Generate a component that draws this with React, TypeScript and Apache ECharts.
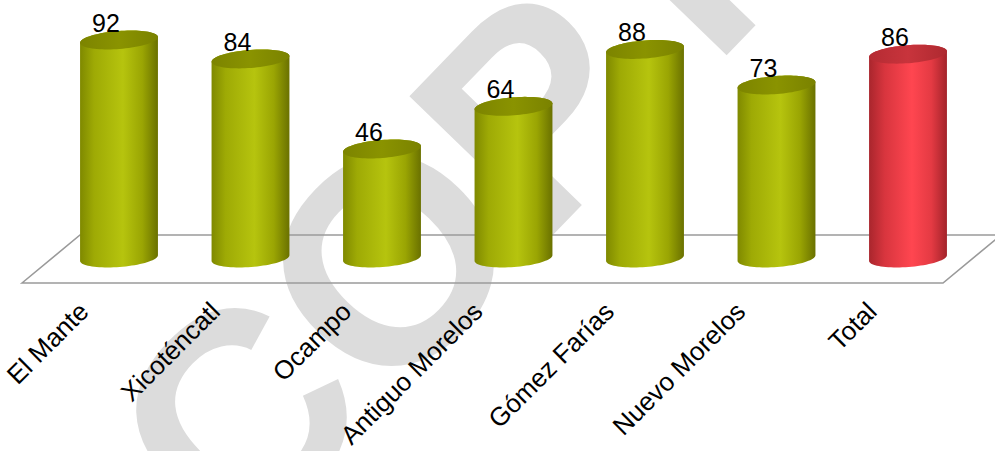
import React, { useEffect, useRef } from "react";
import * as echarts from "echarts";

const categories = [
  "El Mante",
  "Xicoténcatl",
  "Ocampo",
  "Antiguo Morelos",
  "Gómez Farías",
  "Nuevo Morelos",
  "Total",
];
const values = [92, 84, 46, 64, 88, 73, 86];
const isTotal = [false, false, false, false, false, false, true];

const FONT = "'Liberation Sans', Arial, sans-serif";

function ellipsePoints(cx: number, cy: number, a: number, b: number, phi: number, t0: number, t1: number, n: number) {
  const pts: number[][] = [];
  const c = Math.cos(phi);
  const s = Math.sin(phi);
  for (let k = 0; k <= n; k++) {
    const t = t0 + ((t1 - t0) * k) / n;
    const ex = a * Math.cos(t);
    const ey = b * Math.sin(t);
    pts.push([cx + ex * c - ey * s, cy + ex * s + ey * c]);
  }
  return pts;
}

function lg(stops: [number, string][]) {
  return new echarts.graphic.LinearGradient(
    0, 0, 1, 0,
    stops.map(([offset, color]) => ({ offset, color }))
  );
}

const greenBody: [number, string][] = [
  [0, "#7f8900"],
  [0.18, "#9eaa05"],
  [0.55, "#b6c40e"],
  [0.8, "#9aa503"],
  [1, "#6a7100"],
];
const greenTop: [number, string][] = [
  [0, "#7c8400"],
  [0.5, "#8a9300"],
  [1, "#7a8200"],
];
const redBody: [number, string][] = [
  [0, "#a9262d"],
  [0.2, "#d8353e"],
  [0.55, "#ff4650"],
  [0.8, "#e43a43"],
  [1, "#a3232a"],
];
const redTop: [number, string][] = [
  [0, "#b52b33"],
  [0.5, "#c8343c"],
  [1, "#ae2930"],
];

export default function App() {
  const ref = useRef<HTMLDivElement>(null);

  useEffect(() => {
    if (!ref.current) return;
    const chart = echarts.init(ref.current, undefined, { renderer: "svg" });

    const renderItem = (params: any, api: any) => {
      const i = api.value(0);
      const v = api.value(1);
      const base = api.coord([i, 0]);
      const top = api.coord([i, v]);
      const band = api.size([1, 0])[0];
      const a = band * 0.297;
      const b = 9;
      const phi = -Math.asin(3 / a);
      const cx = base[0];
      const total = isTotal[params.dataIndex];

      const bodyPts = ellipsePoints(cx, base[1], a, b, phi, Math.PI, 0, 40).concat(
        ellipsePoints(cx, top[1], a, b, phi, 0, -Math.PI, 40)
      );
      const topPts = ellipsePoints(cx, top[1], a, b, phi, 0, Math.PI * 2, 80);

      return {
        type: "group",
        children: [
          {
            type: "polygon",
            shape: { points: bodyPts },
            style: { fill: lg(total ? redBody : greenBody) },
          },
          {
            type: "polygon",
            shape: { points: topPts },
            style: { fill: lg(total ? redTop : greenTop) },
          },
          {
            type: "text",
            x: cx - 13,
            y: top[1] - 17,
            style: {
              text: String(v),
              fontSize: 25,
              fontFamily: FONT,
              fill: "#000000",
              align: "center",
              verticalAlign: "middle",
              textAlign: "center",
              textVerticalAlign: "middle",
            },
            z2: 10,
          },
        ],
      };
    };

    const option: any = {
      animation: false,
      backgroundColor: "#ffffff",
      grid: [
        { left: 53.25, right: 21.25, top: 21, bottom: 193 },
        { left: 17.25, right: 57.25, top: 21, bottom: 168 },
      ],
      xAxis: [
        {
          type: "category",
          data: categories,
          gridIndex: 0,
          show: false,
        },
        {
          type: "category",
          data: categories,
          gridIndex: 1,
          axisLine: { show: false },
          axisTick: { show: false },
          axisLabel: {
            rotate: 45,
            margin: 32,
            fontSize: 26,
            fontFamily: FONT,
            color: "#000000",
            interval: 0,
          },
        },
      ],
      yAxis: [
        { type: "value", min: 0, max: 100, gridIndex: 0, show: false },
        { type: "value", min: 0, max: 100, gridIndex: 1, show: false },
      ],
      graphic: [
        {
          type: "text",
          x: 450,
          y: 196,
          rotation: (46 * Math.PI) / 180,
          z: 0,
          silent: true,
          style: {
            text: "COPY",
            fontSize: 290,
            fontWeight: "bold",
            fontFamily: FONT,
            fill: "#dcdcdc",
            align: "center",
            verticalAlign: "middle",
            textAlign: "center",
            textVerticalAlign: "middle",
          },
        },
        {
          type: "polygon",
          z: 1,
          silent: true,
          shape: {
            points: [
              [22, 283],
              [80, 235],
              [1001, 235],
              [943, 283],
            ],
          },
          style: { fill: "none", stroke: "#9a9a9a", lineWidth: 1.6 },
        },
      ],
      series: [
        {
          type: "custom",
          xAxisIndex: 0,
          yAxisIndex: 0,
          z: 5,
          renderItem,
          encode: { x: 0, y: 1 },
          data: values.map((v, i) => [i, v]),
        },
      ],
    };

    chart.setOption(option);
    return () => chart.dispose();
  }, []);

  return (
    <div
      ref={ref}
      style={{ position: "fixed", left: 0, top: 0, width: 995, height: 451 }}
    />
  );
}
